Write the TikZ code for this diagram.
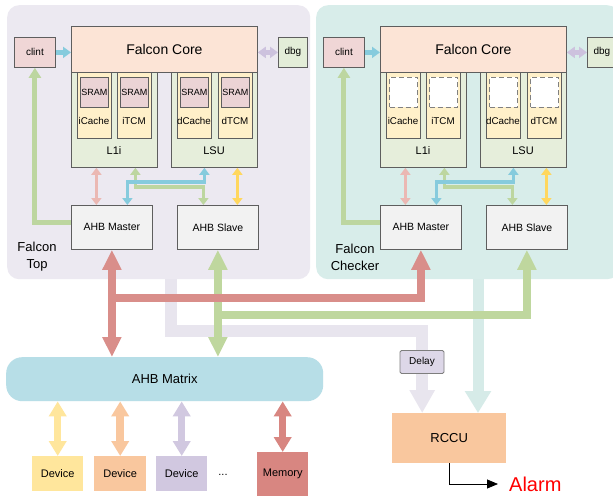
\documentclass[tikz,border=0pt]{standalone}
\usepackage{fontspec}
\setmainfont{Liberation Sans}
\usetikzlibrary{arrows.meta}
\definecolor{panelT}{HTML}{ECE9F1}
\definecolor{panelC}{HTML}{D8EDEA}
\definecolor{corefill}{HTML}{FCE4D6}
\definecolor{clintfill}{HTML}{F0D6D6}
\definecolor{dbgfill}{HTML}{E3EDD8}
\definecolor{l1fill}{HTML}{E6EEDB}
\definecolor{cachefill}{HTML}{FFF0C9}
\definecolor{sramfill}{HTML}{EBD3D5}
\definecolor{ahbfill}{HTML}{F2F2F2}
\definecolor{boxline}{HTML}{5E5E5E}
\definecolor{dashline}{HTML}{808080}
\definecolor{pinkarr}{HTML}{EBB8B3}
\definecolor{cyanarr}{HTML}{86CBDD}
\definecolor{greenarr}{HTML}{BDD6A0}
\definecolor{yellowarr}{HTML}{FFD75E}
\definecolor{lavarr}{HTML}{CDC2DE}
\definecolor{redthick}{HTML}{D98E8A}
\definecolor{greenthick}{HTML}{BFD79E}
\definecolor{lavthick}{HTML}{E8E5EE}
\definecolor{tealthick}{HTML}{D6EBE8}
\definecolor{matrixfill}{HTML}{B7DEE7}
\definecolor{devyellow}{HTML}{FFE69C}
\definecolor{devorange}{HTML}{F9C79E}
\definecolor{devlav}{HTML}{D1C8E0}
\definecolor{memfill}{HTML}{D88681}
\definecolor{rccufill}{HTML}{F9C79E}
\definecolor{delayfill}{HTML}{DDD7E8}
\definecolor{alarmred}{HTML}{FF0000}
\tikzset{
  box/.style={draw=boxline, line width=0.8pt, inner sep=0pt, anchor=north west},
  plain/.style={inner sep=0pt, anchor=north west},
  cachebox/.style={box, fill=cachefill, minimum width=34pt, minimum height=66pt},
  sramT/.style={box, fill=sramfill, minimum width=28pt, minimum height=30pt, font=\fontsize{9}{10}\selectfont},
  sramC/.style={draw=dashline, dash pattern=on 5pt off 3pt, line width=1pt, fill=white, inner sep=0pt, anchor=north west, minimum width=28pt, minimum height=30pt},
  lbl/.style={inner sep=0pt, font=\fontsize{9.8}{11}\selectfont},
  thinarr/.style={line width=3.8pt, line join=miter, >={Triangle[width=10pt,length=7pt]}},
  midarr/.style={line width=5pt, line join=miter, >={Triangle[width=11pt,length=8pt]}},
  thickarr/.style={line width=8.5pt, line join=miter, >={Triangle[width=18pt,length=20pt]}},
  devarr/.style={line width=7.5pt, >={Triangle[width=17pt,length=15pt]}},
}
\newcommand\falconunit[5]{%
\begin{scope}[xshift=#2]
\node[plain, fill=#3, rounded corners=12pt, minimum width=303pt, minimum height=274pt] (panel#1) at (7,5) {};
\node[box, fill=l1fill, minimum width=86pt, minimum height=95pt] (L1i#1) at (71,72) {};
\node[box, fill=l1fill, minimum width=86pt, minimum height=95pt] (LSU#1) at (171,72) {};
\node[cachebox] (ic#1) at (77,72) {};
\node[cachebox] (it#1) at (117,72) {};
\node[cachebox] (dc#1) at (177,72) {};
\node[cachebox] (dt#1) at (218,72) {};
\node[#4] (sa#1) at (80,77) {#5};
\node[#4] (sb#1) at (120,77) {#5};
\node[#4] (sc#1) at (180,77) {#5};
\node[#4] (sd#1) at (221,77) {#5};
\node[lbl] (lic#1) at (94,121) {iCache};
\node[lbl] (lit#1) at (134,121) {iTCM};
\node[lbl] (ldc#1) at (194,121) {dCache};
\node[lbl] (ldt#1) at (235,121) {dTCM};
\node[inner sep=0pt, font=\fontsize{11}{12}\selectfont] (ll1#1) at (114,151) {L1i};
\node[inner sep=0pt, font=\fontsize{11}{12}\selectfont] (llsu#1) at (214,151) {LSU};
\node[box, fill=corefill, minimum width=186pt, minimum height=46pt, font=\fontsize{14}{16}\selectfont] (core#1) at (71,26) {Falcon Core};
\node[box, fill=clintfill, minimum width=41pt, minimum height=30pt, font=\fontsize{10}{11}\selectfont] (clint#1) at (14,37) {clint};
\node[box, fill=dbgfill, minimum width=29pt, minimum height=30pt, font=\fontsize{10}{11}\selectfont] (dbg#1) at (278,37) {dbg};
\node[box, fill=ahbfill, minimum width=81pt, minimum height=44pt, font=\fontsize{10.5}{12}\selectfont] (master#1) at (71,205) {AHB Master};
\node[box, fill=ahbfill, minimum width=81pt, minimum height=44pt, font=\fontsize{10.5}{12}\selectfont] (slave#1) at (177,205) {AHB Slave};
\draw[midarr, ->, draw=cyanarr, fill=cyanarr] (clint#1.east) -- (clint#1.east -| core#1.west);
\draw[midarr, <->, draw=lavarr, fill=lavarr] (core#1.east |- dbg#1.west) -- (dbg#1.west);
\draw[midarr, ->, draw=greenarr, >={Triangle[width=12pt,length=10pt]}] ([yshift=5pt]master#1.west) -| (clint#1.south);
\draw[thinarr, <->, draw=pinkarr] ([xshift=-18pt]L1i#1.south) -- ([xshift=-18pt]L1i#1.south |- master#1.north);
\draw[thinarr, <->, draw=greenarr] ([xshift=21pt]L1i#1.south) -- ++(0,19) -| ([xshift=-14.5pt]slave#1.north);
\draw[thinarr, <->, draw=cyanarr] ([xshift=-10pt]LSU#1.south) -- ++(0,14) -| ([xshift=15.5pt]master#1.north);
\draw[thinarr, <->, draw=yellowarr] ([xshift=23pt]LSU#1.south) -- ([xshift=23pt]LSU#1.south |- slave#1.north);
\end{scope}}
\begin{document}
\begin{tikzpicture}[x=1pt,y=-1pt]
\useasboundingbox (0,0) rectangle (613,500);
\clip (0,0) rectangle (613,500);
\fill[white] (0,0) rectangle (613,500);
\falconunit{T}{0pt}{panelT}{sramT}{SRAM}
\falconunit{C}{309pt}{panelC}{sramC}{}
\node[inner sep=0pt, align=center, font=\fontsize{13}{17}\selectfont] (labT) at (37,257) {Falcon\\Top};
\node[inner sep=0pt, align=center, font=\fontsize{13}{17}\selectfont] (labC) at (355,257) {Falcon\\Checker};
% bottom blocks
\node[plain, fill=matrixfill, rounded corners=16pt, minimum width=317pt, minimum height=44pt, font=\fontsize{13}{15}\selectfont] (matrix) at (6,357) {AHB Matrix};
\node[plain, fill=devyellow, minimum width=51pt, minimum height=35pt, font=\fontsize{11}{12}\selectfont] (dev1) at (32,456) {Device};
\node[plain, fill=devorange, minimum width=52pt, minimum height=35pt, font=\fontsize{11}{12}\selectfont] (dev2) at (94,456) {Device};
\node[plain, fill=devlav, minimum width=51pt, minimum height=35pt, font=\fontsize{11}{12}\selectfont] (dev3) at (156,456) {Device};
\node[inner sep=0pt, font=\fontsize{11}{12}\selectfont] (dots) at (223,475) {...};
\node[plain, fill=memfill, minimum width=51pt, minimum height=44pt, font=\fontsize{11}{12}\selectfont] (mem) at (257,452) {Memory};
\node[plain, fill=rccufill, minimum width=114pt, minimum height=50pt, font=\fontsize{13}{15}\selectfont] (rccu) at (392,413) {RCCU};
\node[inner sep=0pt, anchor=west, text=alarmred, font=\fontsize{20}{22}\selectfont] (alarm) at (509,484) {Alarm};
\coordinate (lavsrc) at (171,279);
\coordinate (tealsrc) at (478,279);
% device arrows
\draw[devarr, <->, draw=devyellow] (dev1.north |- matrix.south) -- (dev1.north);
\draw[devarr, <->, draw=devorange] (dev2.north |- matrix.south) -- (dev2.north);
\draw[devarr, <->, draw=devlav] (dev3.north |- matrix.south) -- (dev3.north);
\draw[devarr, <->, draw=memfill] (mem.north |- matrix.south) -- (mem.north);
% thick buses
\draw[line width=12pt, line join=miter, draw=lavthick, -{Triangle[width=24pt,length=23pt]}] (lavsrc) |- ([xshift=-27pt,yshift=82pt]rccu.north) -- ([xshift=-27pt]rccu.north);
\node[draw=boxline!80, line width=0.8pt, fill=delayfill, rounded corners=1.5pt, inner sep=0pt, minimum width=44pt, minimum height=23pt, font=\fontsize{10}{11}\selectfont] (delay) at (422,362) {Delay};
\draw[line width=11pt, draw=tealthick, -{Triangle[width=25pt,length=22pt]}] (tealsrc) -- (tealsrc |- rccu.north);
\draw[thickarr, <->, draw=greenthick] (slaveT.south) -- (slaveT.south |- matrix.north);
\draw[thickarr, ->, draw=greenthick] ([yshift=-65pt]slaveT.south) -| (slaveC.south);
\draw[thickarr, <->, draw=redthick] (masterT.south) -- (masterT.south |- matrix.north);
\draw[thickarr, ->, draw=redthick] ([yshift=-48pt]masterT.south) -| (masterC.south);
% alarm
\draw[line width=0.8pt, -{Triangle[width=9pt,length=11pt]}] (rccu.south) |- ([xshift=-11pt]alarm.west);
\end{tikzpicture}
\end{document}
